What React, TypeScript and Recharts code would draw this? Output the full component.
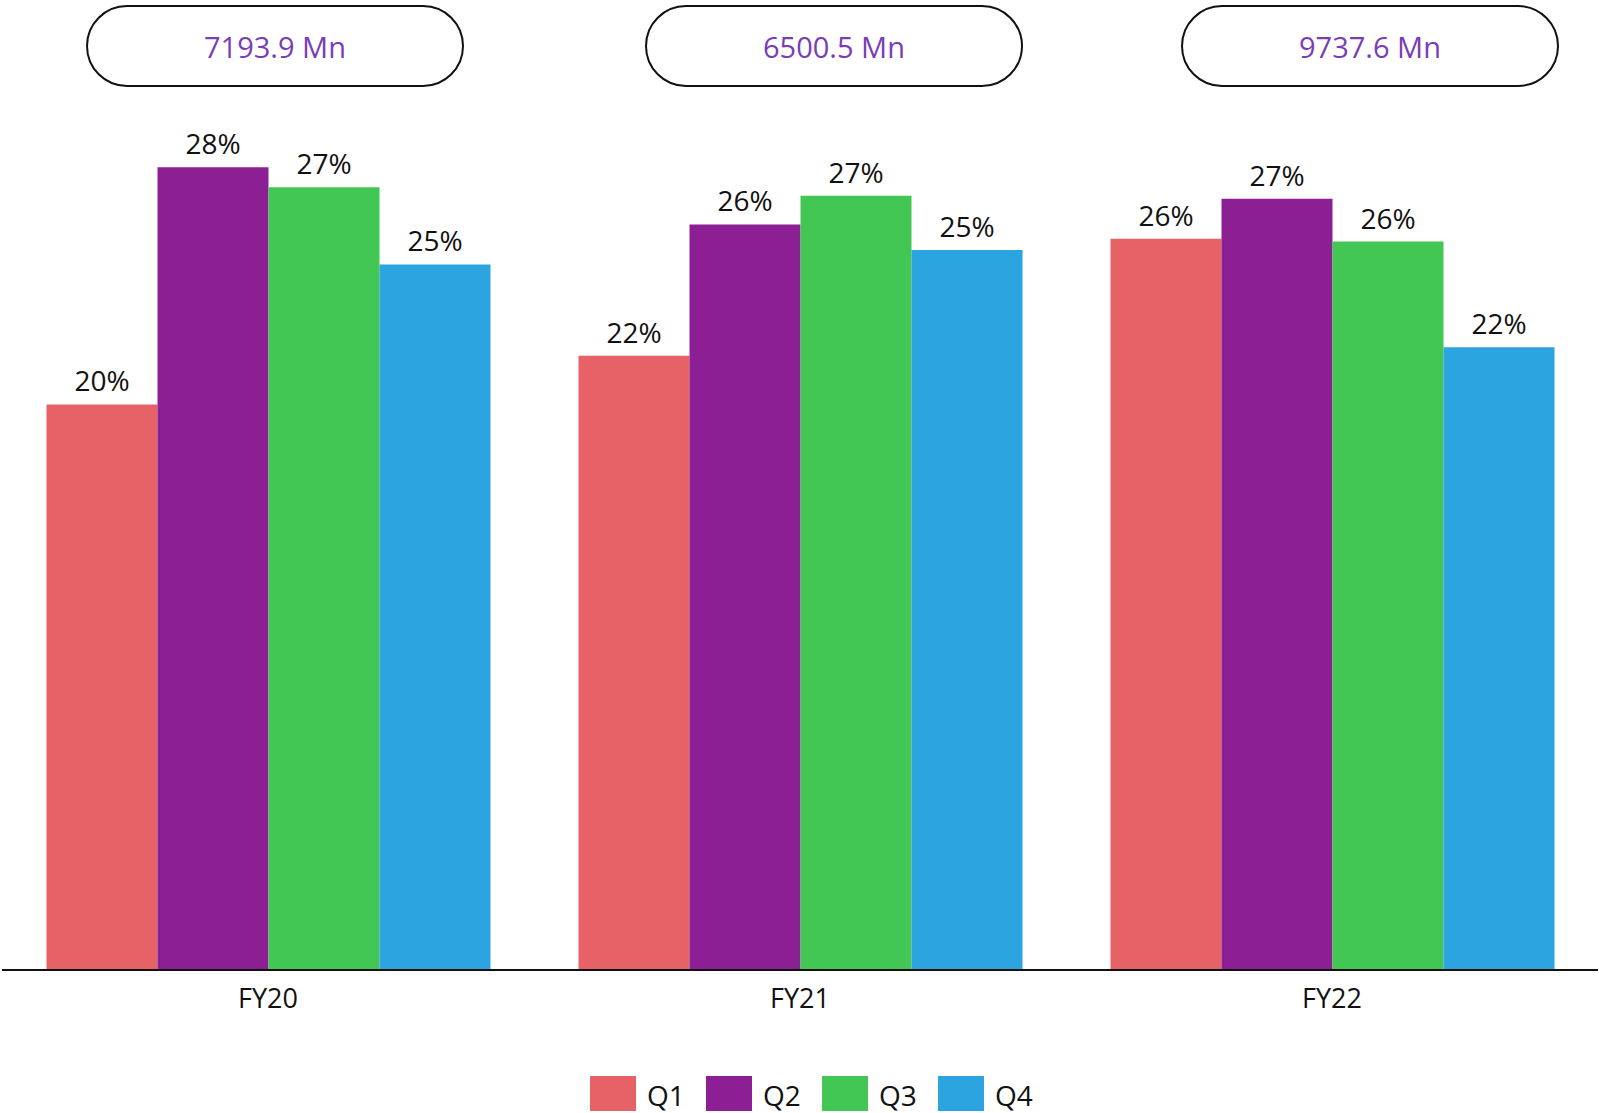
import React from "react";
import { BarChart, Bar, XAxis, YAxis, LabelList, Legend } from "recharts";

const years = ["FY20", "FY21", "FY22"];
const totals = ["7193.9 Mn", "6500.5 Mn", "9737.6 Mn"];
const q1 = [19.8, 21.5, 25.6];
const q2 = [28.1, 26.1, 27.0];
const q3 = [27.4, 27.1, 25.5];
const q4 = [24.7, 25.2, 21.8];

const quarters = ["Q1", "Q2", "Q3", "Q4"];
const colors = ["#E66266", "#8B1F93", "#43C754", "#2CA4DF"];

const data = years.map((name, i) => ({ name, Q1: q1[i], Q2: q2[i], Q3: q3[i], Q4: q4[i] }));

// pill boxes above each group
const boxLeft = [86, 645, 1181];

const FONT = "'Open Sans', 'DejaVu Sans', sans-serif";

function LegendContent() {
  return (
    <div style={{ display: "flex", alignItems: "flex-end", height: 40, paddingLeft: 588, fontFamily: FONT }}>
      {quarters.map((q, i) => (
        <div key={q} style={{ display: "flex", alignItems: "center", width: i < 3 ? 116 : "auto" }}>
          <div style={{ width: 46, height: 35, background: colors[i] }} />
          <span style={{ marginLeft: 11, fontSize: 28, color: "#111", lineHeight: "35px", position: "relative", top: 2 }}>{q}</span>
        </div>
      ))}
    </div>
  );
}

export default function App() {
  return (
    <div style={{ position: "absolute", left: 0, top: 0, width: 1599, height: 1113, background: "#fff", fontFamily: FONT }}>
      {totals.map((t, i) => (
        <div
          key={t}
          style={{
            position: "absolute",
            left: boxLeft[i],
            top: 5,
            width: 378,
            height: 82,
            boxSizing: "border-box",
            border: "2px solid #111",
            borderRadius: 41,
            display: "flex",
            alignItems: "center",
            justifyContent: "center",
            color: "#7A3DB8",
            fontSize: 29,
          }}
        >
          {t}
        </div>
      ))}
      <BarChart
        width={1599}
        height={1113}
        data={data}
        margin={{ top: 113, right: 1, left: 2, bottom: 2 }}
        barCategoryGap={44.5}
        barGap={0}
      >
        <XAxis
          dataKey="name"
          axisLine={{ stroke: "#111", strokeWidth: 2 }}
          tickLine={false}
          tickSize={6}
          tickMargin={13}
          height={101}
          tick={{ fontSize: 27, fill: "#111", fontFamily: FONT }}
        />
        <YAxis hide domain={[0, 30]} />
        <Legend verticalAlign="bottom" content={<LegendContent />} />
        {quarters.map((q, i) => (
          <Bar key={q} dataKey={q} fill={colors[i]} isAnimationActive={false}>
            <LabelList
              dataKey={q}
              position="top"
              offset={13}
              formatter={(v: number) => `${Math.round(v)}%`}
              style={{ fontSize: 28, fill: "#111", fontFamily: FONT }}
            />
          </Bar>
        ))}
      </BarChart>
    </div>
  );
}
